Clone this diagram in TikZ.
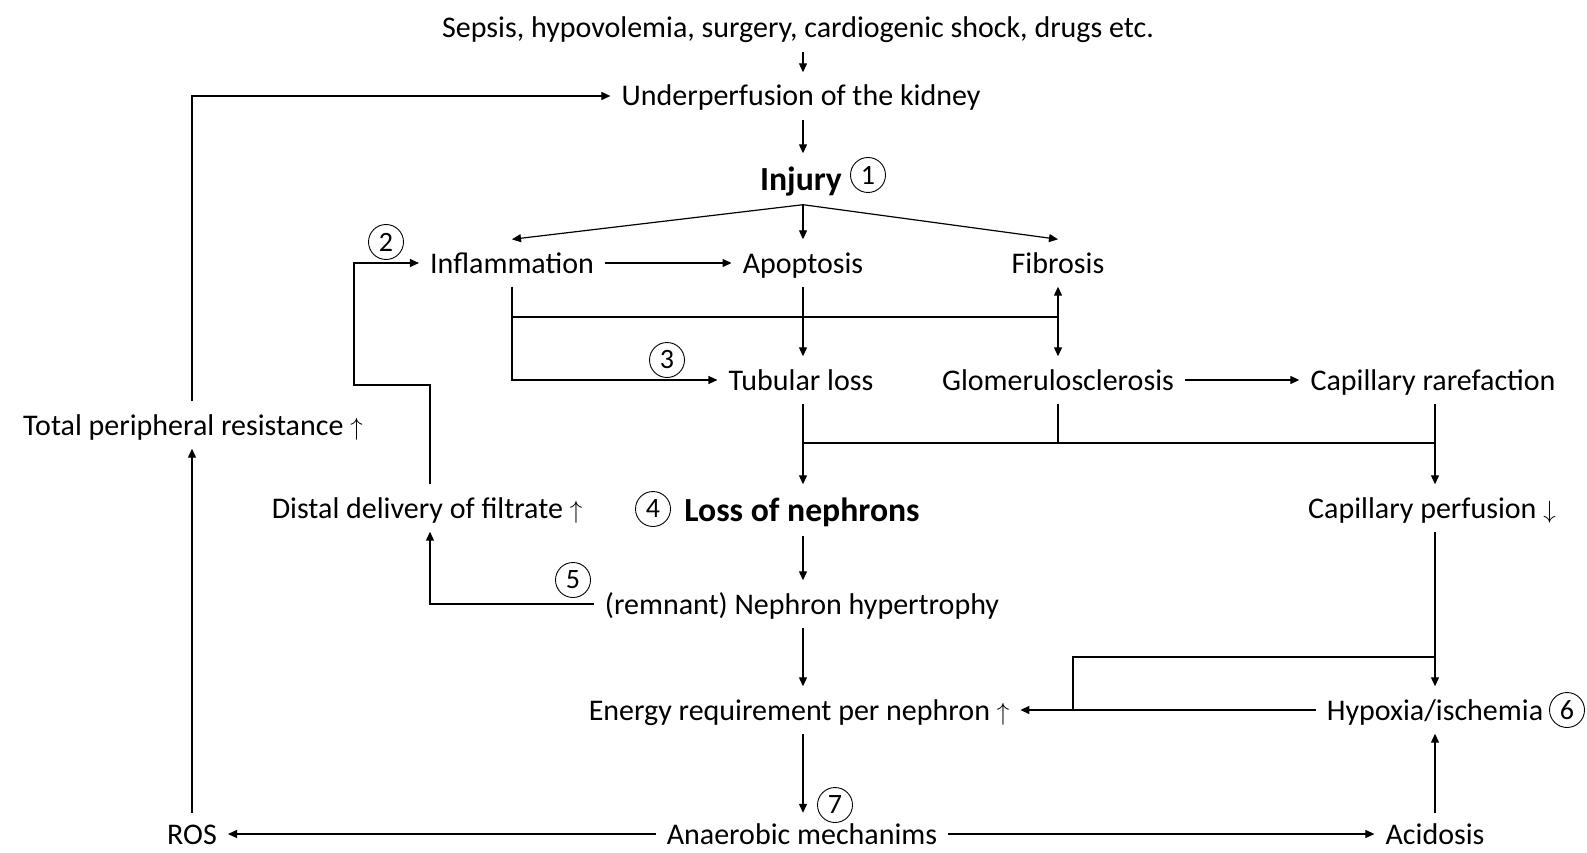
\documentclass[tikz,border=0pt]{standalone}
\usepackage{fontspec}
\setmainfont{Carlito}
\usetikzlibrary{arrows.meta}
\newcommand{\upar}{{\fontsize{36}{40}\selectfont$\uparrow$}}
\newcommand{\dnar}{{\fontsize{36}{40}\selectfont$\downarrow$}}
\begin{document}
\begin{tikzpicture}[x=1pt,y=-1pt,
  lbl/.style={font=\fontsize{30}{36}\selectfont, text height=26pt, text depth=6pt, inner xsep=11pt, inner ysep=7.5pt},
  botlbl/.style={lbl, text height=20pt, text depth=0pt, inner ysep=3pt},
  blbl/.style={font=\fontsize{33.7}{40}\selectfont\bfseries, text height=30pt, text depth=7pt, inner xsep=11pt, inner ysep=7pt},
  num/.style={circle, draw, line width=0.9pt, minimum size=35pt, inner sep=0pt, font=\fontsize{28}{32}\selectfont},
  ln/.style={line width=1.2pt},
  thk/.style={line width=2pt},
  arr/.style={ln, -{Triangle[length=9pt,width=8pt]}},
]
\useasboundingbox[fill=white] (0,0) rectangle (1587,853);
% text nodes
\node[lbl] (sepsis) at (798,28) {Sepsis, hypovolemia, surgery, cardiogenic shock, drugs etc.};
\node[lbl] (under) at (801,96) {Underperfusion of the kidney};
\node[blbl] (injury) at (801,179) {Injury};
\node[lbl] (infl) at (512,263) {Inflammation};
\node[lbl] (apop) at (803,263) {Apoptosis};
\node[lbl] (fib) at (1058,263) {Fibrosis};
\node[lbl] (tub) at (801,380) {Tubular loss};
\node[lbl] (glom) at (1058,380) {Glomerulosclerosis};
\node[lbl] (rar) at (1433,380) {Capillary rarefaction};
\node[blbl] (loss) at (802,510) {Loss of nephrons};
\node[lbl] (distal) at (427,508) {Distal delivery of filtrate \upar};
\node[lbl] (perf) at (1432,508) {Capillary perfusion \dnar};
\node[lbl] (tpr) at (193,425) {Total peripheral resistance \upar};
\node[lbl] (hyper) at (802,604) {(remnant) Nephron hypertrophy};
\node[lbl] (energy) at (799,710) {Energy requirement per nephron \upar};
\node[lbl] (hypox) at (1435,710) {Hypoxia/ischemia};
\node[botlbl] (anaer) at (802,834) {Anaerobic mechanims};
\node[botlbl] (ros) at (192,834) {ROS};
\node[botlbl] (acid) at (1435,834) {Acidosis};
% circled numbers
\node[num] (n1) at (868,175) {1};
\node[num] (n2) at (386,242) {2};
\node[num] (n3) at (667,360) {3};
\node[num] (n4) at (653,509) {4};
\node[num] (n5) at (573,580) {5};
\node[num] (n6) at (1567,710) {6};
\node[num] (n7) at (835,805) {7};
% helper coordinates
\coordinate (spine) at (803,0);
\coordinate (rcol) at (1435,0);
\coordinate (dcol) at (430,0);
\coordinate (h317) at (0,317);
\coordinate (h443) at (0,443);
\coordinate (h657) at (0,657);
\coordinate (turnA) at (354,385);
\coordinate (ej) at (1073,710);
\coordinate (fj) at (1058,317);
% connectors
\draw[arr] (sepsis.south -| spine) -- (under.north -| spine);
\draw[arr] (under.south -| spine) -- (injury.north -| spine);
\coordinate (br) at (injury.south -| spine);
\draw[arr] (br) -- (infl.north);
\draw[arr] (br) -- (apop.north -| spine);
\draw[arr] (br) -- (fib.north);
\draw[arr] (infl) -- (apop);
\draw[arr] (apop.south -| spine) -- (tub.north -| spine);
\draw[thk] (infl.south) -- (infl.south |- h317);
\draw[ln] (infl.south |- h317) -- (fj);
\draw[arr] (fj) -- (fib.south);
\draw[arr] (fj) -- (glom.north);
\draw[arr] (infl.south) |- (tub.west);
\draw[arr] (glom) -- (rar);
\draw[ln] (tub.south -| spine) -- (spine |- h443);
\draw[thk] (spine |- h443) -- (glom.south |- h443);
\draw[ln] (glom.south |- h443) -- (rcol |- h443) -- (rar.south -| rcol);
\draw[ln] (glom.south) -- (glom.south |- h443);
\draw[arr] (spine |- h443) -- (loss.north -| spine);
\draw[arr] (rcol |- h443) -- (perf.north -| rcol);
\draw[arr] (loss.south -| spine) -- (hyper.north -| spine);
\draw[arr] (hyper.south -| spine) -- (energy.north -| spine);
\draw[arr] (energy.south -| spine) -- ([yshift=8pt]anaer.north -| spine);
\draw[arr] (anaer) -- (ros);
\draw[arr] (anaer) -- (acid);
\draw[arr] ([yshift=8pt]acid.north -| rcol) -- (hypox.south -| rcol);
\draw[arr] ([yshift=8pt]ros.north) -- (ros.north |- tpr.south);
\draw[arr] (ros.north |- tpr.north) |- (under.west);
\draw[arr] (hyper.west) -| (distal.south -| dcol);
\draw[arr] (distal.north -| dcol) |- (turnA) |- (infl.west);
\draw[arr] (perf.south -| rcol) -- (hypox.north -| rcol);
\draw[ln] (rcol |- h657) -| (ej);
\draw[arr] (hypox.west) -- (energy.east);
\end{tikzpicture}
\end{document}
